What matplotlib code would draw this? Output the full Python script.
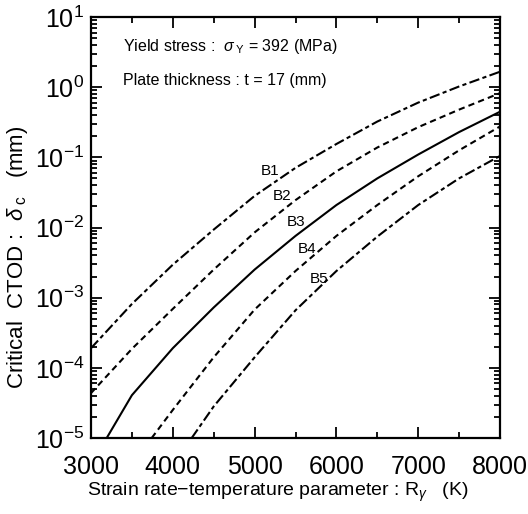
import numpy as np
import matplotlib
matplotlib.use("Agg")
import matplotlib.pyplot as plt
from matplotlib.ticker import LogLocator, MultipleLocator

plt.rcParams['font.family'] = ['Liberation Sans', 'DejaVu Sans']
plt.rcParams['mathtext.fontset'] = 'custom'
plt.rcParams['mathtext.rm'] = 'Liberation Sans'
plt.rcParams['mathtext.it'] = 'Liberation Sans:italic'

# Data: strain rate-temperature parameter R (K) and log10 of critical CTOD (mm)
x_B1 = [3000, 3500, 4000, 4500, 5000, 5500, 6000, 6500, 7000, 7500, 8000]
logy_B1 = [-3.72, -3.09, -2.53, -2.03, -1.55, -1.15, -0.81, -0.49, -0.22, 0.01, 0.22]
x_B2 = [3000, 3500, 4000, 4500, 5000, 5500, 6000, 6500, 7000, 7500, 8000]
logy_B2 = [-4.36, -3.73, -3.16, -2.60, -2.07, -1.61, -1.20, -0.86, -0.57, -0.32, -0.085]
x_B3 = [3192, 3500, 4000, 4500, 5000, 5500, 6000, 6500, 7000, 7500, 8000]
logy_B3 = [-5.0, -4.39, -3.72, -3.14, -2.60, -2.12, -1.68, -1.30, -0.96, -0.64, -0.35]
x_B4 = [3742, 4000, 4500, 5000, 5500, 6000, 6500, 7000, 7500, 8000]
logy_B4 = [-5.0, -4.60, -3.85, -3.17, -2.62, -2.12, -1.68, -1.27, -0.90, -0.56]
x_B5 = [4231, 4500, 5000, 5500, 6000, 6500, 7000, 7500, 8000]
logy_B5 = [-5.0, -4.55, -3.85, -3.18, -2.62, -2.13, -1.68, -1.30, -0.98]

labels = ['B1', 'B2', 'B3', 'B4', 'B5']
label_x = [5188, 5330, 5510, 5640, 5790]
label_logy = [-1.195, -1.55, -1.92, -2.31, -2.74]

fig = plt.figure(figsize=(5.28, 5.14), dpi=100)
ax = fig.add_axes([91/528, 76/514, 409/528, 421/514])

dashdot = (0, (5, 1.6, 2, 1.6))
dashed = (0, (3, 2))
styles = [dashdot, dashed, '-', dashed, dashdot]
series = [(x_B1, logy_B1), (x_B2, logy_B2), (x_B3, logy_B3), (x_B4, logy_B4), (x_B5, logy_B5)]
for (xs, ly), ls in zip(series, styles):
    ax.plot(xs, 10.0 ** np.array(ly), color='black', lw=1.5, linestyle=ls)

for lab, lx, lly in zip(labels, label_x, label_logy):
    ax.text(lx, 10 ** lly, lab, fontsize=11, ha='center', va='center')

ax.set_yscale('log')
ax.set_xlim(3000, 8000)
ax.set_ylim(1e-5, 1e1)
ax.xaxis.set_major_locator(MultipleLocator(1000))
ax.xaxis.set_minor_locator(MultipleLocator(500))
ax.yaxis.set_major_locator(LogLocator(base=10, numticks=10))
ax.yaxis.set_minor_locator(LogLocator(base=10, subs=np.arange(2, 10), numticks=20))

for s in ax.spines.values():
    s.set_linewidth(1.6)
ax.tick_params(which='both', direction='in', top=True, right=True, width=1.3)
ax.tick_params(which='major', length=8, labelsize=18)
ax.tick_params(axis='x', which='major', pad=12)
ax.tick_params(axis='y', which='major', pad=5)
ax.tick_params(which='minor', length=4)

ax.set_xlabel(r'Strain rate$-$temperature parameter : R$_\gamma$   (K)', fontsize=14)
ax.xaxis.set_label_coords(0.457, -0.102)
ax.set_ylabel(r'Critical  CTOD :  $\delta_{\;\rm c}$   (mm)', fontsize=16)
ax.yaxis.set_label_coords(-0.150, 0.43)

ax.text(0.078, 0.929, r'Yield stress :  $\sigma_{\;\rm Y}$ = 392 (MPa)', transform=ax.transAxes,
        fontsize=11.5, ha='left', va='center')
ax.text(0.078, 0.85, 'Plate thickness : t = 17 (mm)', transform=ax.transAxes,
        fontsize=11.5, ha='left', va='center')

fig.savefig('out.png', dpi=100)
